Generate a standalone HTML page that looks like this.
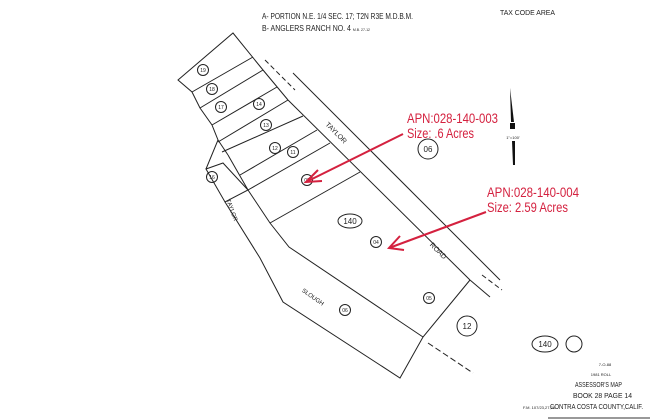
<!DOCTYPE html>
<html><head><meta charset="utf-8"><style>
html,body{margin:0;padding:0;background:#fff}
svg{display:block}
text{font-family:"Liberation Sans",sans-serif}
</style></head><body>
<svg width="650" height="420" viewBox="0 0 650 420" xmlns="http://www.w3.org/2000/svg">
<g stroke="#222" stroke-width="1" fill="none">
<line x1="293" y1="73" x2="500" y2="280"/>
<line x1="265" y1="60" x2="295" y2="90" stroke-dasharray="5,3"/>
<line x1="288" y1="100" x2="470" y2="280"/>
<line x1="470" y1="280" x2="490" y2="297"/>
<line x1="482" y1="275" x2="502" y2="290" stroke-dasharray="5,3"/>
<line x1="428" y1="343" x2="473" y2="373" stroke-dasharray="6,3"/>
<polyline points="206,169 218,140 212,125 200,108 192,92 178,80 233,33 263,70 288,100"/>
<line x1="192" y1="92" x2="253" y2="57"/>
<line x1="200" y1="108" x2="263" y2="70"/>
<line x1="212" y1="125" x2="277" y2="87"/>
<line x1="218" y1="142" x2="288" y2="100"/>
<line x1="222" y1="152" x2="303" y2="116"/>
<line x1="228" y1="155" x2="248" y2="190"/>
<line x1="218" y1="140" x2="228" y2="155"/>
<line x1="240" y1="175" x2="317" y2="130"/>
<line x1="248" y1="190" x2="330" y2="143"/>
<polygon points="206,169 223,163 248,190 225,202"/>
<polyline points="225,202 260,258 283,302 400,378 423,337 470,280"/>
<polyline points="248,190 270,223 289,247 423,337"/>
<line x1="270" y1="223" x2="360" y2="172"/>
</g>
<g stroke="#222" fill="none" stroke-width="1">
<circle cx="428" cy="149" r="10"/><circle cx="467" cy="326" r="10"/>
<ellipse cx="545" cy="344" rx="13" ry="8"/><circle cx="574" cy="344" r="8"/>
<ellipse cx="350" cy="221" rx="12" ry="7"/>
<circle cx="203" cy="70" r="5.5"/><circle cx="212" cy="89" r="5.5"/><circle cx="221" cy="107" r="5.5"/>
<circle cx="259" cy="104" r="5.5"/><circle cx="266" cy="125" r="5.5"/><circle cx="275" cy="148" r="5.5"/>
<circle cx="293" cy="152" r="5.5"/><circle cx="307" cy="180" r="5.5"/><circle cx="212" cy="177" r="5.5"/>
<circle cx="376" cy="242" r="5.5"/><circle cx="345" cy="310" r="5.5"/><circle cx="429" cy="298" r="5.5"/>
</g>
<g font-size="8" fill="#222" text-anchor="middle">
<text x="428" y="152">06</text><text x="467" y="329">12</text>
<text x="545" y="347">140</text><text x="350" y="224">140</text>
</g>
<g font-size="5" fill="#222" text-anchor="middle">
<text x="203" y="72">19</text><text x="212" y="91">18</text><text x="221" y="109">17</text>
<text x="259" y="106">14</text><text x="266" y="127">13</text><text x="275" y="150">12</text>
<text x="293" y="154">11</text><text x="307" y="182">03</text><text x="212" y="179">16</text>
<text x="376" y="244">04</text><text x="345" y="312">06</text><text x="429" y="300">05</text>
</g>
<g font-size="7" fill="#222">
<text x="336" y="135" transform="rotate(45 336 133)" text-anchor="middle">TAYLOR</text>
<text x="438" y="253" transform="rotate(45 438 251)" text-anchor="middle">ROAD</text>
<text x="313" y="299" transform="rotate(35 313 297)" text-anchor="middle" font-size="6">SLOUGH</text>
<text x="232" y="212" transform="rotate(70 232 210)" text-anchor="middle" font-size="6">TAYLOR</text>
</g>
<g font-size="8" fill="#222">
<text x="262" y="19" textLength="151" lengthAdjust="spacingAndGlyphs">A- PORTION N.E. 1/4  SEC. 17; T2N R3E M.D.B.M.</text>
<text x="262" y="31" textLength="108" lengthAdjust="spacingAndGlyphs">B- ANGLERS RANCH NO. 4 <tspan font-size="4">M.B. 27-12</tspan></text>
<text x="500" y="15" font-size="7" textLength="55" lengthAdjust="spacingAndGlyphs">TAX CODE AREA</text>
<text x="575" y="387" font-size="7" textLength="47" lengthAdjust="spacingAndGlyphs">ASSESSOR'S MAP</text>
<text x="573" y="398" font-size="7" textLength="59" lengthAdjust="spacingAndGlyphs">BOOK 28   PAGE 14</text>
<text x="523" y="409" font-size="4">F.M. 107/23,27,28</text>
<text x="550" y="409" font-size="7" textLength="93" lengthAdjust="spacingAndGlyphs">CONTRA COSTA COUNTY,CALIF.</text>
<text x="601" y="376" font-size="4" text-anchor="middle">1981 ROLL</text>
<text x="605" y="366" font-size="4" text-anchor="middle">7-O-88</text>
<text x="513" y="139" font-size="4" text-anchor="middle">1"=100'</text>
</g>
<polygon points="510,88 514,122 511,122" fill="#111"/>
<rect x="510" y="123" width="5" height="6" fill="#111"/>
<polygon points="512,141 515,141 515,165 513,165" fill="#111"/>
<line x1="548" y1="418" x2="650" y2="418" stroke="#999" stroke-width="2"/>
<g stroke="#d4213f" stroke-width="2" fill="none">
<line x1="403" y1="134" x2="306" y2="182"/>
<polyline points="318,170 306,182 322,181"/>
<line x1="486" y1="212" x2="389" y2="248"/>
<polyline points="400,236 389,248 404,250"/>
</g>
<g fill="#d4213f" font-size="14">
<text x="407" y="123" textLength="91" lengthAdjust="spacingAndGlyphs">APN:028-140-003</text>
<text x="407" y="138" textLength="67" lengthAdjust="spacingAndGlyphs">Size: .6 Acres</text>
<text x="487" y="197" textLength="92" lengthAdjust="spacingAndGlyphs">APN:028-140-004</text>
<text x="487" y="212" textLength="81" lengthAdjust="spacingAndGlyphs">Size: 2.59 Acres</text>
</g>
</svg>
</body></html>
